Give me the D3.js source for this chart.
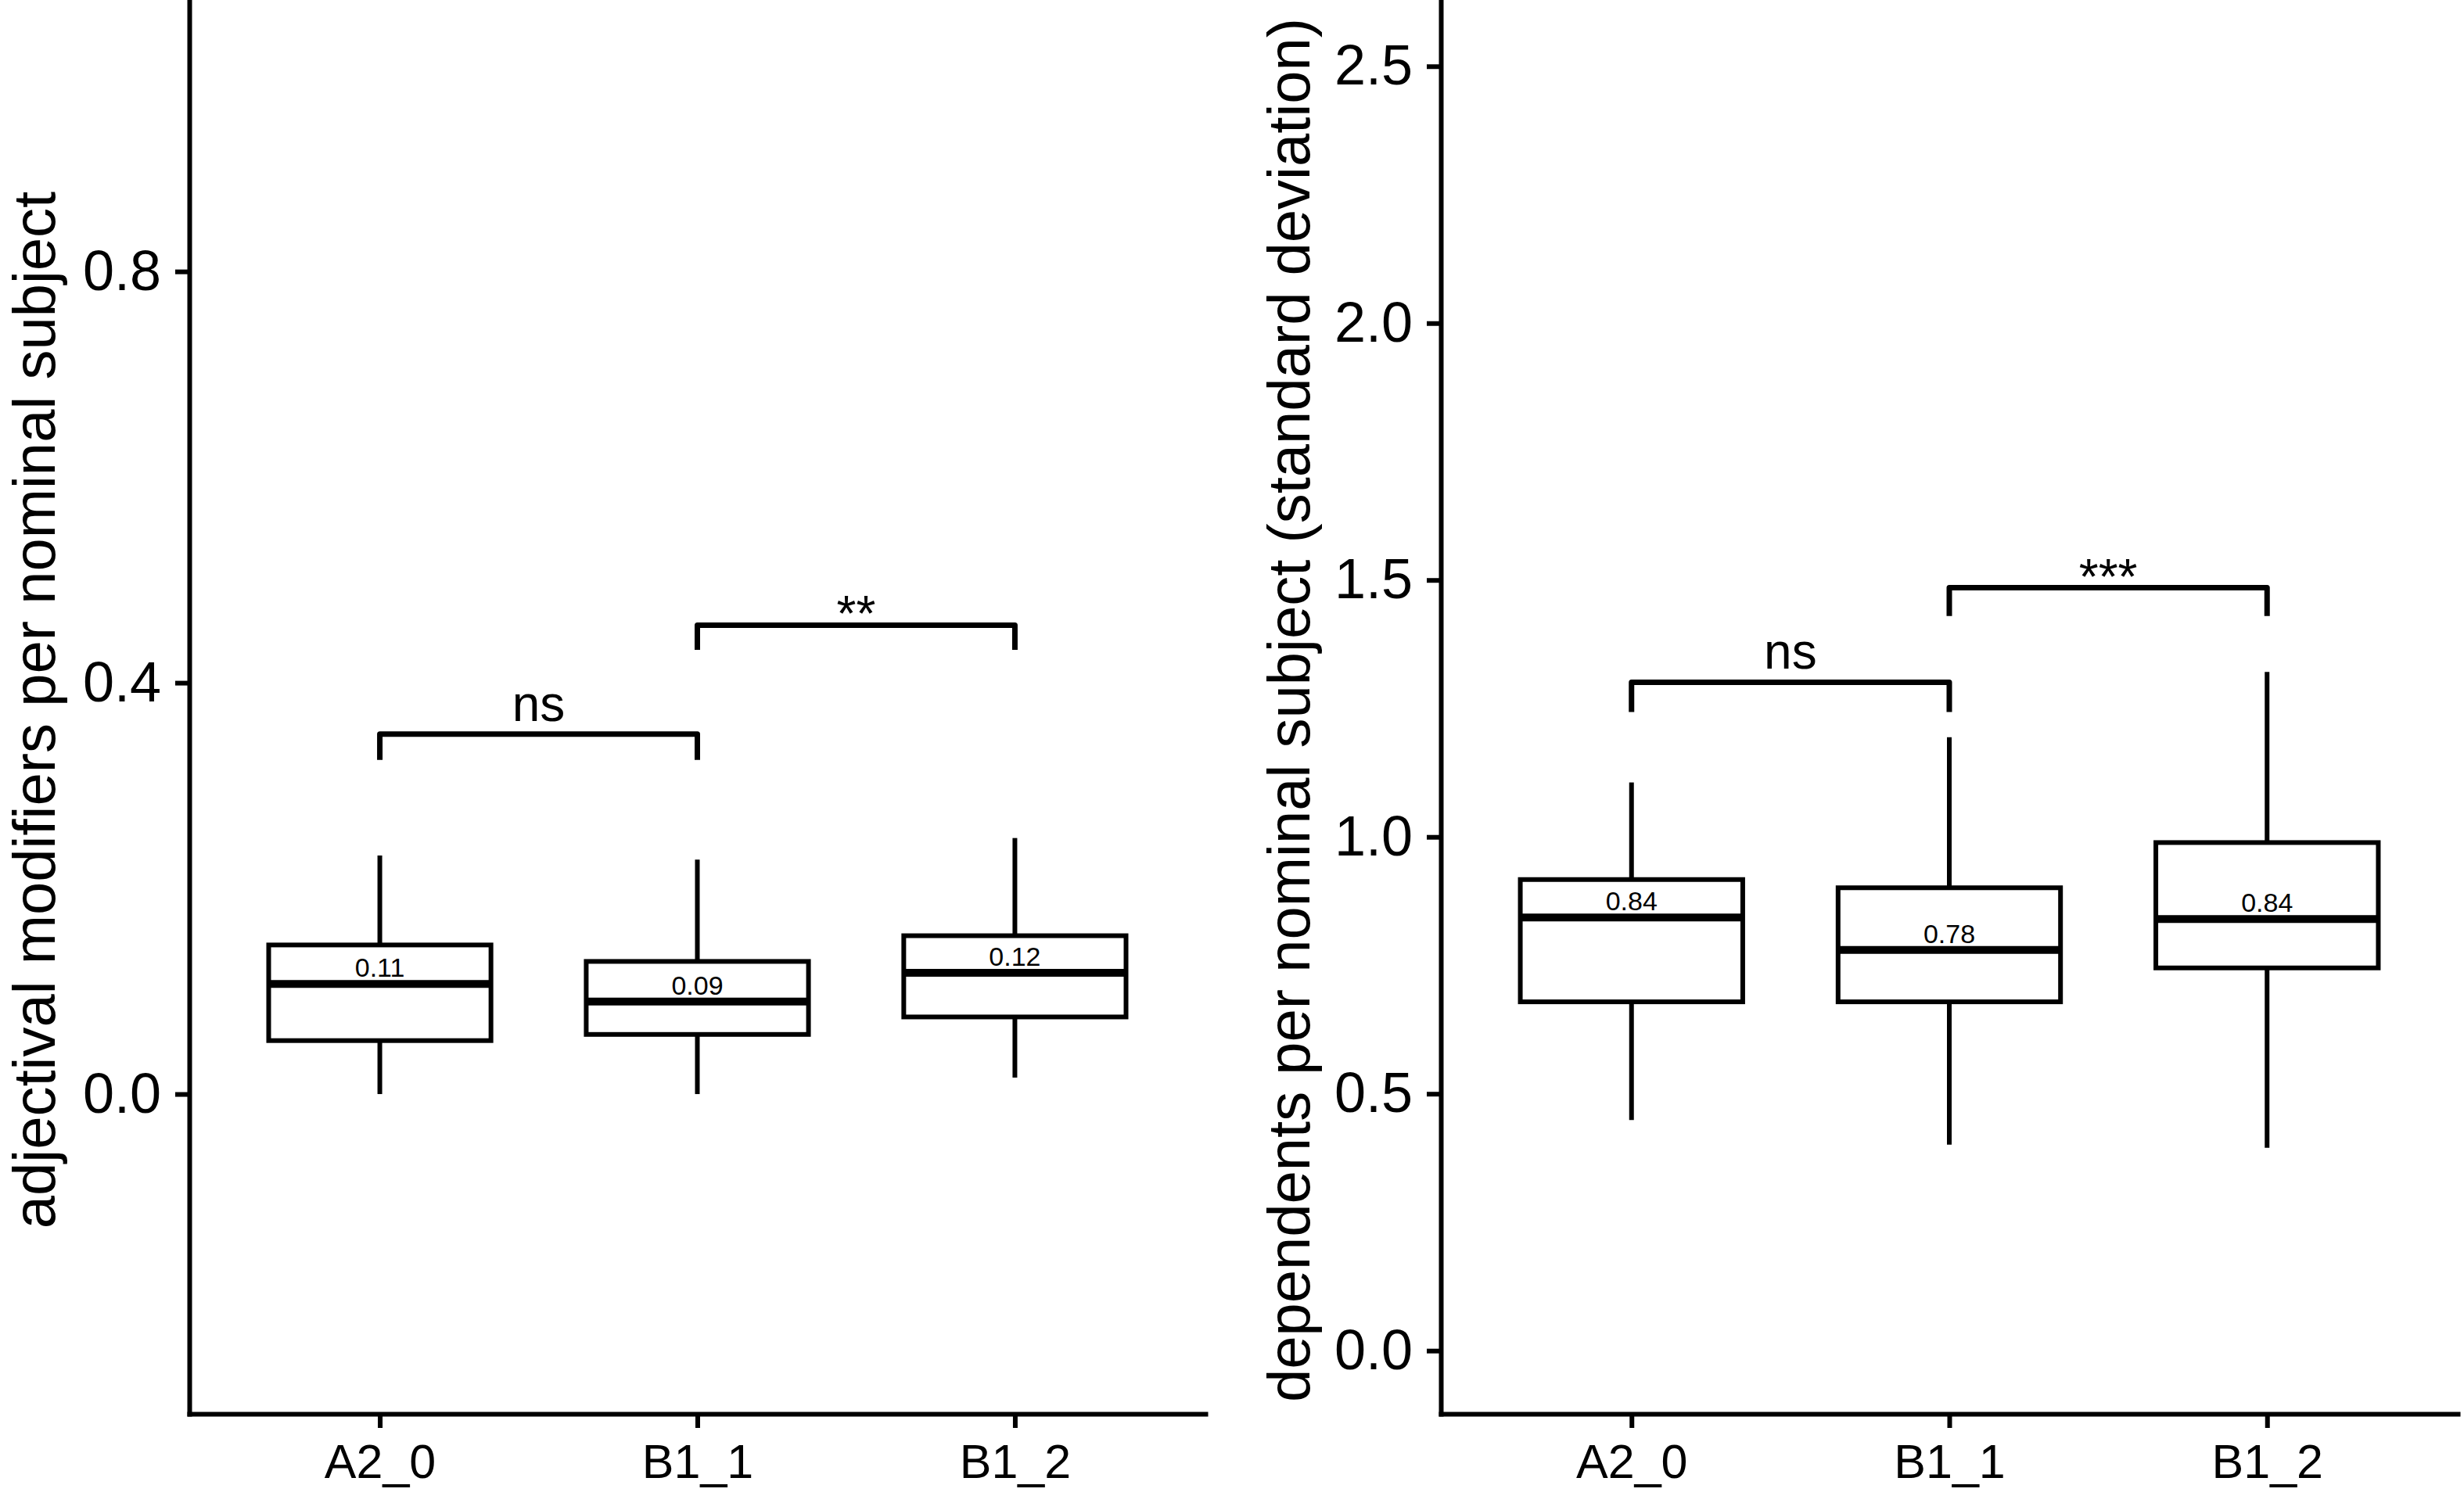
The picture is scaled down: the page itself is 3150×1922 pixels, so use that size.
<!DOCTYPE html>
<html>
<head>
<meta charset="utf-8">
<script src="https://cdn.jsdelivr.net/npm/d3@7"></script>
<style>
  html, body { margin: 0; padding: 0; background: #fff; }
  svg { display: block; }
  text { font-family: 'Liberation Sans', Arial, sans-serif; fill: #000; }
</style>
</head>
<body>
<div id="chart"></div>
<script>
// groups on the x axis (same in both panels)
const groups = ['A2_0', 'B1_1', 'B1_2'];

// left panel: adjectival modifiers per nominal subject
// [lower whisker, q1, median, q3, upper whisker]
const adjStats = [
	[0.0, 0.052, 0.107, 0.145, 0.232],
	[0.0, 0.058, 0.090, 0.129, 0.228],
	[0.016, 0.075, 0.118, 0.154, 0.249]
];
const adjTicks = [0.0, 0.4, 0.8];
const adjDomain = [-0.311, 1.064];
// significance brackets: from, to, bar height, tip end, label
const adjSig = [
	{ from: 'A2_0', to: 'B1_1', y: 0.350, tip: 0.325, label: 'ns' },
	{ from: 'B1_1', to: 'B1_2', y: 0.456, tip: 0.432, label: '**' }
];

// right panel: dependents per nominal subject (standard deviation)
const depStats = [
	[0.449, 0.679, 0.843, 0.917, 1.106],
	[0.401, 0.679, 0.780, 0.901, 1.194],
	[0.395, 0.745, 0.840, 0.989, 1.321]
];
const depTicks = [0.0, 0.5, 1.0, 1.5, 2.0, 2.5];
const depDomain = [-0.123, 2.629];
const depSig = [
	{ from: 'A2_0', to: 'B1_1', y: 1.301, tip: 1.243, label: 'ns' },
	{ from: 'B1_1', to: 'B1_2', y: 1.485, tip: 1.430, label: '***' }
];

const W = 3150;
const H = 1922;
const axisY = 1808;

const svg = d3.select('#chart')
	.append('svg')
	.attr('width', W)
	.attr('height', H)
	.attr('viewBox', `0 0 ${W} ${H}`);

svg.append('rect').attr('width', W).attr('height', H).attr('fill', '#fff');

const fmt = d3.format('.2f');

const drawPanel = (opts) => {
	const { left, right, titleX, title, stats, ticks, domain, sig } = opts;

	const x = d3.scalePoint().domain(groups).range([left, right]).padding(0.6);
	const y = d3.scaleLinear().domain(domain).range([axisY, 0]);
	const boxW = x.step() * 0.7;

	const g = svg.append('g');

	// y axis
	const yAxis = g.append('g')
		.attr('transform', `translate(${left}, 0)`)
		.call(d3.axisLeft(y).tickValues(ticks).tickFormat(d3.format('.1f'))
			.tickSize(18).tickSizeOuter(0).tickPadding(18));

	// x axis
	const xAxis = g.append('g')
		.attr('transform', `translate(0, ${axisY})`)
		.call(d3.axisBottom(x).tickSize(18).tickSizeOuter(0).tickPadding(21));

	[yAxis, xAxis].forEach((a) => {
		a.select('.domain').attr('stroke', '#000').attr('stroke-width', 6).attr('stroke-linecap', 'square');
		a.selectAll('.tick line').attr('stroke', '#000').attr('stroke-width', 6);
	});
	yAxis.selectAll('.tick text').style('font-size', '72px').attr('fill', '#000');
	xAxis.selectAll('.tick text').style('font-size', '61px').attr('fill', '#000');

	// axis title
	g.append('text')
		.attr('transform', `translate(${titleX}, ${y((domain[0] + domain[1]) / 2) + 4}) rotate(-90)`)
		.attr('text-anchor', 'middle')
		.style('font-size', '76px')
		.text(title);

	const boxes = g.selectAll('.box')
		.data(stats.map((s, i) => ({ group: groups[i], s })))
		.join('g')
		.attr('class', 'box');

	// whiskers
	boxes.append('line')
		.attr('x1', (d) => x(d.group)).attr('x2', (d) => x(d.group))
		.attr('y1', (d) => y(d.s[3])).attr('y2', (d) => y(d.s[4]))
		.attr('stroke', '#000').attr('stroke-width', 6);
	boxes.append('line')
		.attr('x1', (d) => x(d.group)).attr('x2', (d) => x(d.group))
		.attr('y1', (d) => y(d.s[1])).attr('y2', (d) => y(d.s[0]))
		.attr('stroke', '#000').attr('stroke-width', 6);

	// box
	boxes.append('rect')
		.attr('x', (d) => x(d.group) - boxW / 2)
		.attr('width', boxW)
		.attr('y', (d) => y(d.s[3]))
		.attr('height', (d) => y(d.s[1]) - y(d.s[3]))
		.attr('fill', '#fff')
		.attr('stroke', '#000')
		.attr('stroke-width', 6);

	// median
	boxes.append('line')
		.attr('x1', (d) => x(d.group) - boxW / 2).attr('x2', (d) => x(d.group) + boxW / 2)
		.attr('y1', (d) => y(d.s[2])).attr('y2', (d) => y(d.s[2]))
		.attr('stroke', '#000').attr('stroke-width', 10);

	// median label
	boxes.append('text')
		.attr('x', (d) => x(d.group))
		.attr('y', (d) => y(d.s[2]) - 9)
		.attr('text-anchor', 'middle')
		.style('font-size', '34px')
		.text((d) => fmt(d.s[2]));

	// significance brackets
	const br = g.selectAll('.sig')
		.data(sig)
		.join('g')
		.attr('class', 'sig');

	br.append('path')
		.attr('d', (d) => `M${x(d.from)},${y(d.tip)}V${y(d.y)}H${x(d.to)}V${y(d.tip)}`)
		.attr('fill', 'none')
		.attr('stroke', '#000')
		.attr('stroke-width', 7)
		.attr('stroke-linejoin', 'round');

	br.append('text')
		.attr('x', (d) => (x(d.from) + x(d.to)) / 2)
		.attr('y', (d) => (d.label === 'ns' ? y(d.y) - 17 : y(d.y) + 8))
		.attr('text-anchor', 'middle')
		.style('font-size', '64px')
		.text((d) => d.label);
};

drawPanel({
	left: 242, right: 1541, titleX: 70,
	title: 'adjectival modifiers per nominal subject',
	stats: adjStats, ticks: adjTicks, domain: adjDomain, sig: adjSig
});

drawPanel({
	left: 1842, right: 3142, titleX: 1674,
	title: 'dependents per nominal subject (standard deviation)',
	stats: depStats, ticks: depTicks, domain: depDomain, sig: depSig
});
</script>
</body>
</html>
